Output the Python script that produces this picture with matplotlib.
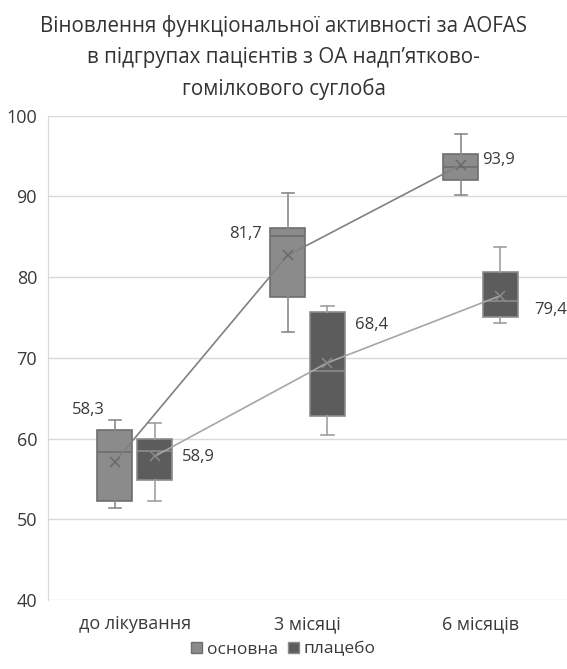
import numpy as np
import matplotlib
matplotlib.use('Agg')
from matplotlib import pyplot as plt
from matplotlib.patches import Patch

plt.rcParams['font.family'] = ['Open Sans', 'DejaVu Sans']

# categories and groups
periods = ['до лікування', '3 місяці', '6 місяців']
groups = ['основна', 'плацебо']

# box statistics per group, one value per period
main_whislo = [51.4, 73.2, 90.2]
main_q1 = [52.3, 77.5, 92.1]
main_med = [58.3, 85.1, 93.7]
main_q3 = [61.1, 86.1, 95.2]
main_whishi = [62.3, 90.4, 97.7]
main_mean = [57.1, 82.7, 93.9]

plac_whislo = [52.3, 60.5, 74.3]
plac_q1 = [54.9, 62.8, 75.1]
plac_med = [58.5, 68.4, 77.0]
plac_q3 = [59.9, 75.7, 80.6]
plac_whishi = [61.9, 76.4, 83.7]
plac_mean = [57.8, 69.4, 77.7]

# value labels written next to the boxes
main_labels = ['58,3', '81,7', '93,9']
plac_labels = ['58,9', '68,4', '79,4']

title = ('Віновлення функціональної активності за AOFAS\n'
         'в підгрупах пацієнтів з ОА надп’ятково-\n'
         'гомілкового суглоба')

def make_stats(lo, q1, med, q3, hi, mean):
    out = []
    for i in range(len(lo)):
        out.append(dict(whislo=lo[i], q1=q1[i], med=med[i], q3=q3[i],
                        whishi=hi[i], mean=mean[i], fliers=[]))
    return out

main_stats = make_stats(main_whislo, main_q1, main_med, main_q3, main_whishi, main_mean)
plac_stats = make_stats(plac_whislo, plac_q1, plac_med, plac_q3, plac_whishi, plac_mean)

fig = plt.figure(figsize=(5.67, 6.69), dpi=100)
ax = fig.add_axes([0.085, 0.1031, 0.915, 0.7239])

x = np.arange(len(periods))
off = 0.115
bw = 0.2

styles = [
    (main_stats, x - off, '#8b8b8b', '#6e6e6e', '#8a8a8a'),
    (plac_stats, x + off, '#5c5c5c', '#8c8c8c', '#a0a0a0'),
]
for stats, pos, fc, ec, wc in styles:
    ax.bxp(stats, positions=pos, widths=bw, patch_artist=True, showmeans=False,
           showfliers=False,
           boxprops=dict(facecolor=fc, edgecolor=ec, linewidth=1.2),
           medianprops=dict(color=ec, linewidth=1.2),
           whiskerprops=dict(color=wc, linewidth=1.2),
           capprops=dict(color=wc, linewidth=1.2),
           capwidths=0.07, zorder=2)

# mean lines with x markers
ax.plot(x - off, main_mean, color='#808080', lw=1.2, marker='x', ms=7,
        mec='#6a6a6a', mew=1.1, zorder=3)
ax.plot(x + off, plac_mean, color='#a6a6a6', lw=1.2, marker='x', ms=7,
        mec='#8a8a8a', mew=1.1, zorder=3)

# value labels
lab_kw = dict(fontsize=12, color='#3a3a3a', va='center')
ax.text(x[0] - off - 0.058, 63.6, main_labels[0], ha='right', **lab_kw)
ax.text(x[1] - off - 0.147, 85.4, main_labels[1], ha='right', **lab_kw)
ax.text(x[2] - off + 0.125, 94.5, main_labels[2], ha='left', **lab_kw)
ax.text(x[0] + off + 0.161, 57.7, plac_labels[0], ha='left', **lab_kw)
ax.text(x[1] + off + 0.157, 74.1, plac_labels[1], ha='left', **lab_kw)
ax.text(x[2] + off + 0.193, 75.9, plac_labels[2], ha='left', **lab_kw)

ax.set_xlim(-0.5, 2.5)
ax.set_ylim(40, 100)
ax.set_yticks(np.arange(40, 101, 10))
ax.set_xticks(x)
ax.set_xticklabels(periods)
ax.tick_params(length=0, labelsize=13, colors='#3a3a3a')
ax.tick_params(axis='x', pad=11)
ax.tick_params(axis='y', pad=8)
ax.grid(axis='y', color='#d9d9d9', lw=1)
ax.set_axisbelow(True)
for s in ['top', 'right', 'bottom']:
    ax.spines[s].set_visible(False)
ax.spines['left'].set_color('#d9d9d9')

fig.text(0.5, 0.977, title, ha='center', va='top', fontsize=14.8,
         color='#333333', linespacing=1.6)

handles = [Patch(facecolor='#8b8b8b', edgecolor='#6e6e6e', label=groups[0]),
           Patch(facecolor='#5c5c5c', edgecolor='#8c8c8c', label=groups[1])]
fig.legend(handles=handles, loc='center', bbox_to_anchor=(0.5, 0.029), ncol=2,
           frameon=False, fontsize=12.5, handlelength=0.65, handleheight=0.65,
           handletextpad=0.25, columnspacing=0.6, labelcolor='#3a3a3a')

fig.savefig('out.png', dpi=100)
